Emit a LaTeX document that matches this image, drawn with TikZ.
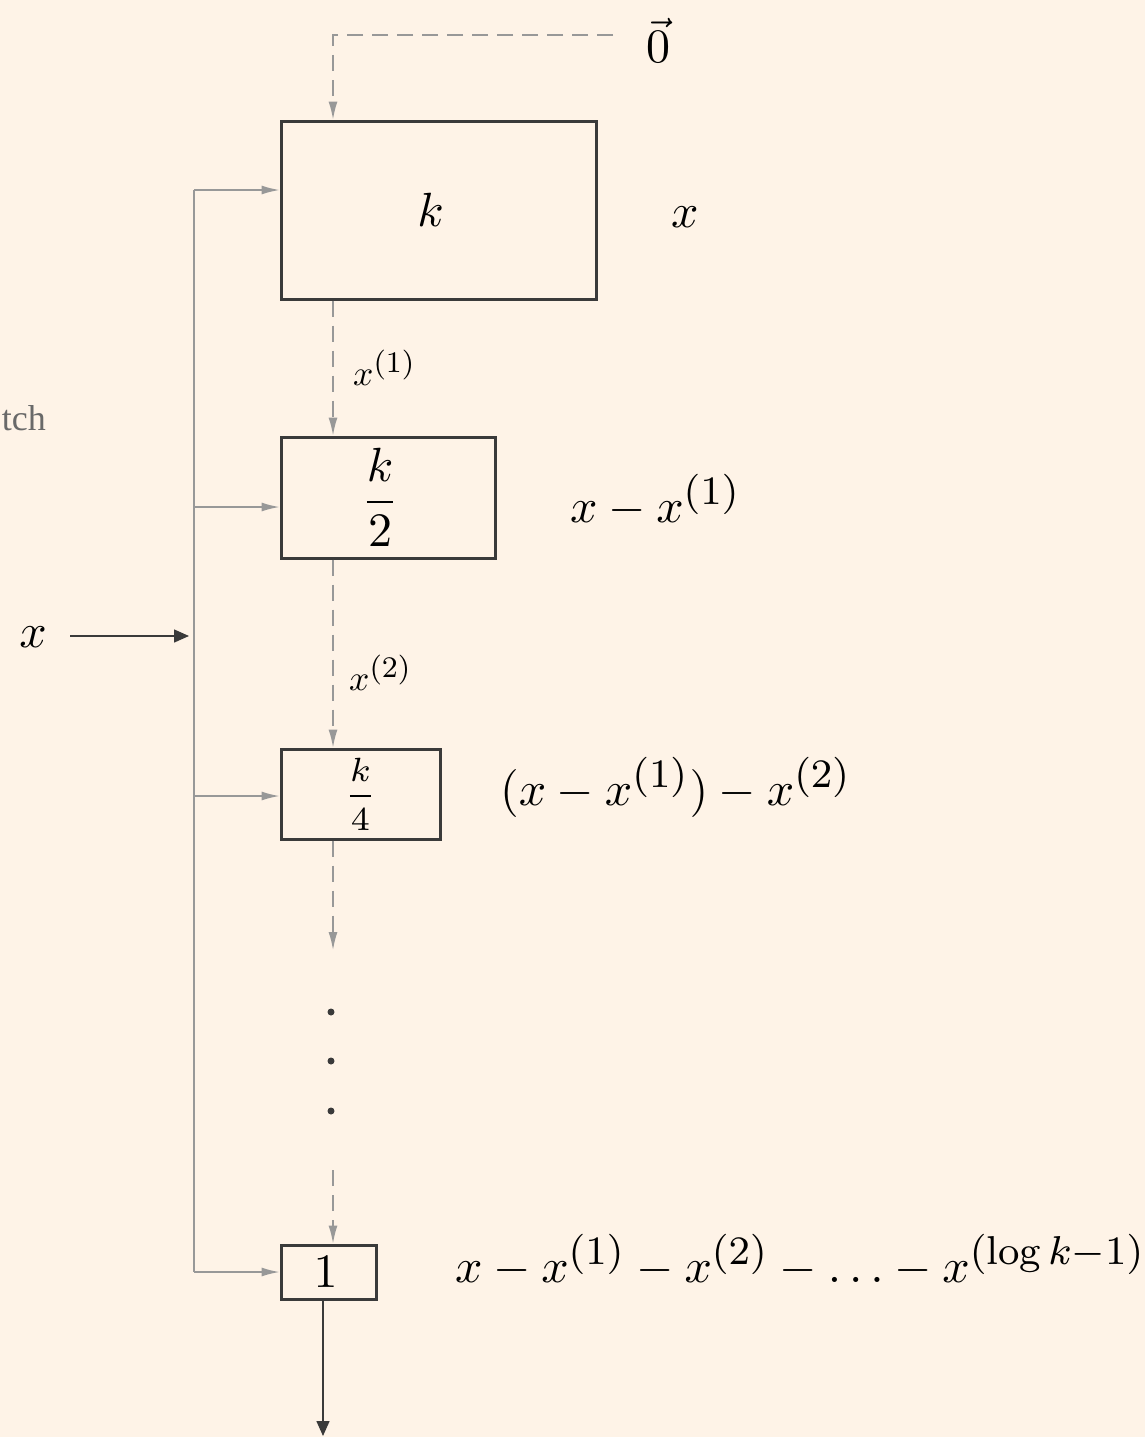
\documentclass[tikz,border=0pt]{standalone}
\usepackage{fix-cm}
\usepackage{graphicx}
\usepackage{fontspec}
\newfontfamily\slidefont{Liberation Serif}
\usetikzlibrary{arrows.meta}
\DeclareMathSizes{10}{10}{8.4}{6}
\DeclareMathSizes{11}{11}{7.7}{5.5}
\definecolor{bg}{RGB}{254,243,231}
\definecolor{conn}{RGB}{152,152,152}
\definecolor{dark}{RGB}{58,58,58}
\definecolor{slidegray}{RGB}{105,105,105}
\newcommand{\mymath}[1]{\scalebox{4.8}{$#1$}}
\newcommand{\mysmall}[1]{\scalebox{3.56}{$#1$}}
\newcommand{\myquarter}{\scalebox{4.364}{\fontsize{11}{13}\selectfont$\frac{k\rule[-2.78pt]{0pt}{2.78pt}}{\rule{0pt}{7.28pt}4}$}}
\begin{document}
\begin{tikzpicture}[x=1pt,y=-1pt,
  box/.style={draw=dark,line width=3pt,inner sep=0pt},
  lbl/.style={inner sep=0pt},
  dconn/.style={draw=conn,line width=1.5pt,dash pattern=on 16pt off 9pt,-{Latex[length=18pt,width=9pt]}},
  gconn/.style={draw=conn,line width=1.5pt,-{Latex[length=18pt,width=9pt]}},
  gline/.style={draw=conn,line width=1.5pt},
  darr/.style={draw=dark,line width=1.5pt,-{Triangle[length=15pt,width=13pt]}},
  dotnode/.style={circle,fill=dark,inner sep=0pt,minimum size=7pt}]
\path[use as bounding box,fill=bg] (0,0) rectangle (1145,1437);

% cut-off slide text
\node[font=\slidefont\fontsize{36}{40}\selectfont,text=slidegray,anchor=base east,inner sep=0pt] (cut) at (46,430) {tch};

% boxes
\node[box,minimum width=315pt,minimum height=178pt] (box1) at (438.5,210) {\mymath{k}\hspace*{16pt}};
\node[box,minimum width=214pt,minimum height=121pt] (box2) at (388,497.5) {\mymath{\displaystyle\frac{k}{2}}\hspace*{16pt}};
\node[box,minimum width=159pt,minimum height=90pt] (box3) at (360.5,794) {\myquarter};
\node[box,minimum width=95pt,minimum height=54pt] (box4) at (328.5,1272) {\mymath{1}\hspace*{6pt}};

% right labels
\node[lbl] (zero) at (658,40) {\mymath{\vec{0}}};
\node[lbl,anchor=base west] (r1) at (671,227) {\mymath{x}};
\node[lbl,anchor=base west] (r2) at (570,522) {\mymath{x-x^{(1)}}};
\node[lbl,anchor=base west] (r3) at (500,805) {\mymath{(x-x^{(1)})-x^{(2)}}};
\node[lbl,anchor=base west] (r4) at (455,1282) {\mymath{x-x^{(1)}-x^{(2)}-\ldots-x^{(\log k-1)}}};

% connector labels
\node[lbl,anchor=base west] (l1) at (353,385) {\mysmall{x^{(1)}}};
\node[lbl,anchor=base west] (l2) at (349,690) {\mysmall{x^{(2)}}};

% column coordinates
\coordinate (col) at (333,0);
\coordinate (z0) at (613,35);
\coordinate (d1) at (333,950);
\coordinate (d2) at (333,1170);

% dashed chain
\draw[dconn] (z0) -| (box1.north -| col);
\draw[dconn] (box1.south -| col) -- (box2.north -| col);
\draw[dconn] (box2.south -| col) -- (box3.north -| col);
\draw[dconn] (box3.south -| col) -- (d1);
\draw[dconn] (d2) -- (box4.north -| col);

% dots
\node[dotnode] (dot1) at (331,1012) {};
\node[dotnode] (dot2) at (331,1061) {};
\node[dotnode] (dot3) at (331,1111) {};

% bus
\coordinate (b1) at (194,190);
\coordinate (b2) at (194,507);
\coordinate (b3) at (194,796);
\coordinate (b4) at (194,1272);
\draw[gline] (b1) -- (b4);
\draw[gconn] (b1) -- (b1 -| box1.west);
\draw[gconn] (b2) -- (b2 -| box2.west);
\draw[gconn] (b3) -- (b3 -| box3.west);
\draw[gconn] (b4) -- (b4 -| box4.west);

% input x
\node[lbl] (xin) at (33,637) {\mymath{x}};
\coordinate (xend) at (189,636);
\draw[darr] (70,636) -- (xend);

% output
\coordinate (out) at (323,1436);
\draw[darr] (box4.south -| out) -- (out);
\end{tikzpicture}
\end{document}
